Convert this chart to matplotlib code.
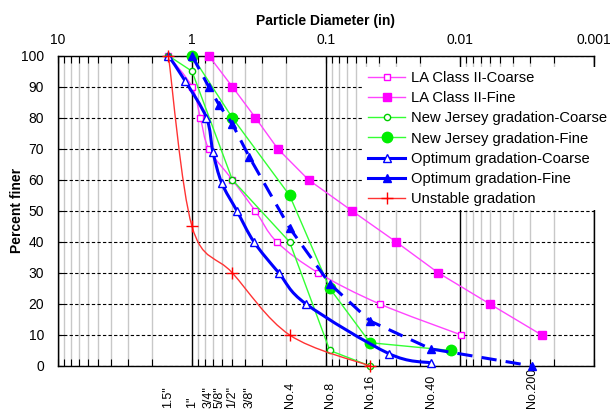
import numpy as np
import matplotlib
matplotlib.use("Agg")
import matplotlib.pyplot as plt
from matplotlib.path import Path
from matplotlib.patches import PathPatch
from matplotlib.lines import Line2D
from matplotlib.ticker import LogLocator, NullFormatter

plt.rcParams['font.family'] = ['Liberation Sans', 'DejaVu Sans']

# particle diameter (in) and percent finer
la_coarse_d = [1.5, 1.0, 0.866, 0.75, 0.5, 0.337, 0.233, 0.114, 0.0398, 0.0098]
la_coarse_p = [100, 90, 80, 70, 60, 50, 40, 30, 20, 10]
la_fine_d = [0.75, 0.5, 0.336, 0.229, 0.135, 0.064, 0.030, 0.0145, 0.006, 0.00246]
la_fine_p = [100, 90, 80, 70, 60, 50, 40, 30, 20, 10]
nj_coarse_d = [1.5, 1.0, 0.5, 0.187, 0.0937, 0.0469]
nj_coarse_p = [100, 95, 60, 40, 5, 0]
nj_fine_d = [1.0, 0.5, 0.187, 0.0937, 0.0469, 0.0117]
nj_fine_p = [100, 80, 55, 25, 7.5, 5]
opt_coarse_d = [1.5, 1.13, 0.78, 0.698, 0.6, 0.462, 0.345, 0.225, 0.141, 0.034, 0.0165]
opt_coarse_p = [100, 92, 80, 69, 59, 50, 40, 30, 20, 4, 1]
opt_fine_d = [1.0, 0.75, 0.625, 0.5, 0.375, 0.187, 0.0937, 0.0469, 0.0165, 0.0029]
opt_fine_p = [100, 90, 84, 78, 67.5, 44.5, 26.5, 14.5, 5.5, 0]
unstable_d = [1.5, 1.0, 0.5, 0.187, 0.0469]
unstable_p = [100, 45, 30, 10, 0]

sieve_sizes = [1.5, 1.0, 0.75, 0.625, 0.5, 0.375, 0.187, 0.0937, 0.0469, 0.0165, 0.0029]
sieve_labels = ['1.5"', '1"', '3/4"', '5/8"', '1/2"', '3/8"', 'No.4', 'No.8', 'No.16', 'No.40', 'No.200']


def smooth_path(xs, ys):
    """Excel-like smoothed line (Catmull-Rom as cubic Bezier) in log-x space."""
    pts = np.column_stack([np.log10(xs), ys])
    n = len(pts)
    verts = [pts[0]]
    codes = [Path.MOVETO]
    for i in range(n - 1):
        p0 = pts[i - 1] if i > 0 else pts[i]
        p1, p2 = pts[i], pts[i + 1]
        p3 = pts[i + 2] if i + 2 < n else pts[i + 1]
        verts += [p1 + (p2 - p0) / 6, p2 - (p3 - p1) / 6, p2]
        codes += [Path.CURVE4] * 3
    verts = np.array(verts)
    verts[:, 0] = 10 ** verts[:, 0]
    return Path(verts, codes)


fig = plt.figure(figsize=(6.13, 4.12), dpi=100)
ax = fig.add_axes([0.0946, 0.1117, 0.8744, 0.7531])

ax.set_xscale('log')
ax.set_xlim(10, 0.001)
ax.set_ylim(0, 100)

# grid
ax.xaxis.set_minor_locator(LogLocator(base=10, subs=np.arange(2, 10), numticks=10))
ax.xaxis.set_minor_formatter(NullFormatter())
ax.set_xticks([10, 1, 0.1, 0.01, 0.001])
ax.set_xticklabels(['10', '1', '0.1', '0.01', '0.001'])
ax.set_yticks(range(0, 101, 10))
ax.grid(which='minor', axis='x', color='#c8c8c8', lw=1.0, zorder=0)
ax.grid(which='major', axis='x', color='black', lw=1.0, zorder=0)
ax.grid(which='major', axis='y', color='black', lw=0.8, ls=(0, (3, 2)), zorder=0)
ax.set_axisbelow(True)

ax.xaxis.set_ticks_position('both')
ax.tick_params(axis='x', which='both', direction='in', length=5, width=0.8,
               labeltop=True, labelbottom=False, labelsize=10, pad=6)
ax.tick_params(axis='y', which='both', direction='in', length=4, width=0.8,
               labelsize=10, pad=10)
ax.xaxis.set_label_position('top')
ax.set_xlabel('Particle Diameter (in)', fontsize=10, fontweight='bold', labelpad=6)
ax.set_ylabel('Percent finer', fontsize=10, fontweight='bold')
ax.yaxis.set_label_coords(-0.063, 0.5)

for s in ax.spines.values():
    s.set_linewidth(1.0)
    s.set_color('black')

series = [
    # d, p, line colour, marker colour, lw, ls, marker, ms, face, label, smooth
    (la_coarse_d, la_coarse_p, '#ff44ff', '#ff00ff', 1.0, '-', 's', 5, 'white', 'LA Class II-Coarse', True),
    (la_fine_d, la_fine_p, '#ff44ff', '#ff00ff', 1.0, '-', 's', 5.5, '#ff00ff', 'LA Class II-Fine', False),
    (nj_coarse_d, nj_coarse_p, '#33ff33', '#00cc00', 1.0, '-', 'o', 4.5, 'white', 'New Jersey gradation-Coarse', False),
    (nj_fine_d, nj_fine_p, '#33ff33', '#00ee00', 1.0, '-', 'o', 7.5, '#00ee00', 'New Jersey gradation-Fine', False),
    (opt_coarse_d, opt_coarse_p, '#0000ff', '#0000ff', 2.2, '-', '^', 6, 'white', 'Optimum gradation-Coarse', True),
    (opt_fine_d, opt_fine_p, '#0000ff', '#0000ff', 2.2, (0, (5, 3)), '^', 6, '#0000ff', 'Optimum gradation-Fine', False),
    (unstable_d, unstable_p, '#ff3333', '#ff0000', 1.0, '-', '+', 9, '#ff0000', 'Unstable gradation', True),
]

handles = []
for z, (d, p, lc, mc, lw, ls, mk, ms, mfc, label, smooth) in enumerate(series):
    zo = 3 + z
    if smooth:
        ax.add_patch(PathPatch(smooth_path(d, p), fill=False, edgecolor=lc, lw=lw,
                               transform=ax.transData, zorder=zo, clip_on=False))
        ax.plot(d, p, ls='none', marker=mk, ms=ms, mfc=mfc, mec=mc, mew=1.0,
                zorder=zo, clip_on=False)
    else:
        ax.plot(d, p, color=lc, lw=lw, ls=ls, marker=mk, ms=ms, mfc=mfc, mec=mc,
                mew=1.0, zorder=zo, clip_on=False)
    handles.append(Line2D([], [], color=lc, lw=lw, ls='-', marker=mk, ms=ms,
                          mfc=mfc, mec=mc, mew=1.0, label=label))

leg = ax.legend(handles=handles, loc='upper left', bbox_to_anchor=(0.571, 0.965),
                fontsize=10.6, frameon=True, fancybox=False, framealpha=1,
                edgecolor='none', facecolor='white', labelspacing=0.42,
                handlelength=2.5, handletextpad=0.4, borderpad=0.3,
                borderaxespad=0)
leg.set_zorder(20)

# sieve labels below the axis
for size, lab in zip(sieve_sizes, sieve_labels):
    ax.text(size, -0.135, lab, rotation=90, ha='center', va='bottom', fontsize=9,
            transform=ax.get_xaxis_transform())

fig.savefig('out.png', dpi=100)
